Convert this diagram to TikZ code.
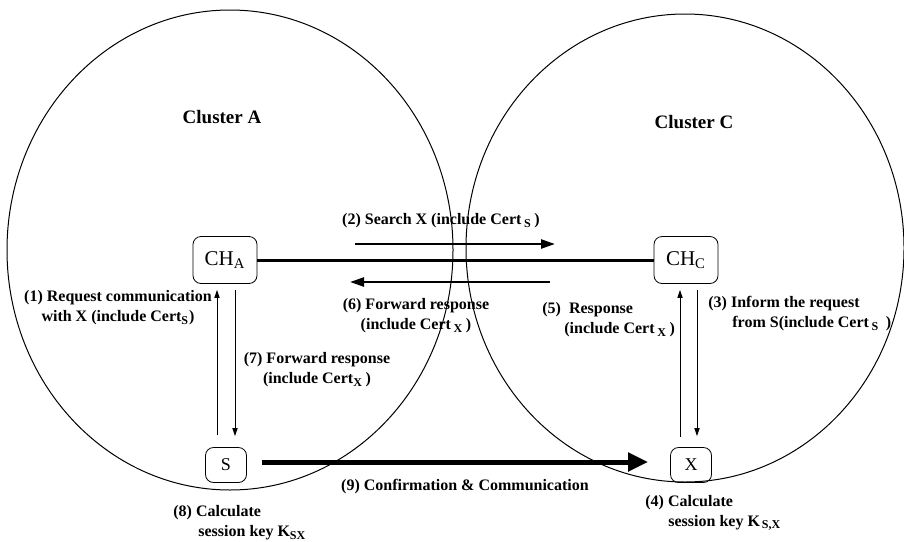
\documentclass[tikz,border=0pt]{standalone}
\usepackage{fontspec}
\setmainfont{Liberation Serif}
\usetikzlibrary{arrows.meta}

\tikzset{
  headbox/.style={draw, rounded corners=4pt, minimum width=32pt, minimum height=23.5pt,
    inner sep=0pt, font=\mdseries\fontsize{10.5}{12}\selectfont},
  memberbox/.style={draw, rounded corners=4pt, minimum width=20.5pt, minimum height=17.5pt,
    inner sep=0pt, font=\mdseries\fontsize{9}{10}\selectfont},
  steptext/.style={align=center, inner sep=0pt},
  stepleft/.style={align=left, anchor=west, inner sep=0pt},
  thinarrow/.style={-{Triangle[length=4pt, width=2.6pt]}, line width=0.5pt},
  midarrow/.style={-{Triangle[length=7pt, width=4.5pt]}, line width=1.2pt},
  bigarrow/.style={-{Triangle[length=10pt, width=9pt]}, line width=2.5pt}
}

\begin{document}
\begin{tikzpicture}[x=0.5pt, y=-0.5pt, font=\bfseries\fontsize{8}{10}\selectfont]
    \useasboundingbox (0,0) rectangle (904,541);

    % --- KLASTRY ---
    \draw[line width=0.5pt] (230,250) ellipse [x radius=111.5pt, y radius=120pt];
    \draw[line width=0.5pt] (685,248) ellipse [x radius=109.5pt, y radius=117pt];
    \node (clA) at (222,117) {\fontsize{9.5}{11}\selectfont Cluster A};
    \node (clC) at (694,122) {\fontsize{9.5}{11}\selectfont Cluster C};

    % --- WĘZŁY ---
    \node[headbox] (CHA) at (225,260) {CH\textsubscript{A}};
    \node[headbox] (CHC) at (686,260) {CH\textsubscript{C}};
    \node[memberbox] (S) at (226,465) {S};
    \node[memberbox] (X) at (691,465) {X};

    % Połączenie między głowami klastrów
    \draw[line width=1.5pt] (CHA) -- (CHC);

    % --- KOMUNIKATY (STRZAŁKI) ---
    \coordinate (srchA) at (355,244);
    \coordinate (srchB) at (555,244);
    \coordinate (fwdA) at (550,282);
    \coordinate (fwdB) at (350,282);
    \draw[midarrow] (srchA) -- (srchB);
    \draw[midarrow] (fwdA) -- (fwdB);

    % W klastrze A
    \draw[thinarrow, shorten <=6pt, shorten >=3pt] ([xshift=-4.5pt]S.north) -- ([xshift=-4.5pt]S.north |- CHA.south);
    \draw[thinarrow, shorten <=3pt, shorten >=5.5pt] ([xshift=4.5pt]S.north |- CHA.south) -- ([xshift=4.5pt]S.north);

    % W klastrze C
    \draw[thinarrow, shorten <=5pt, shorten >=3pt] ([xshift=-5.5pt]X.north) -- ([xshift=-5.5pt]X.north |- CHC.south);
    \draw[thinarrow, shorten <=3pt, shorten >=5.5pt] ([xshift=3pt]X.north |- CHC.south) -- ([xshift=3pt]X.north);

    % Potwierdzenie i komunikacja
    \draw[bigarrow, shorten <=7.5pt, shorten >=11pt] ([yshift=1.5pt]S.east) -- ([yshift=1.5pt]X.west);

    % --- OPISY ---
    \node[steptext] (l1) at (118,308) {(1) Request communication\\with X (include Cert\textsubscript{S})};
    \node[steptext] (l2) at (441,221) {(2) Search X (include Cert\,\textsubscript{S}\,)};
    \node[stepleft] (l3) at (708,314) {(3) Inform the request\\\hspace*{12pt}from S(include Cert\,\textsubscript{S}\ \,)};
    \node[stepleft] (l4) at (645,513) {(4) Calculate\\\hspace*{11.5pt}session key K\textsubscript{\,S,X}};
    \node[stepleft] (l5) at (542,320) {(5)\ \ Response\\\hspace*{11pt}(include Cert\,\textsubscript{X}\,)};
    \node[steptext] (l6) at (416,316) {(6) Forward response\\(include Cert\,\textsubscript{X}\,)};
    \node[steptext] (l7) at (317,370) {(7) Forward response\\(include Cert\textsubscript{X}\,)};
    \node[stepleft] (l8) at (173,523) {(8) Calculate\\\hspace*{12.5pt}session key K\textsubscript{SX}};
    \node[steptext] (l9) at (465,487) {(9) Confirmation \& Communication};

\end{tikzpicture}
\end{document}
